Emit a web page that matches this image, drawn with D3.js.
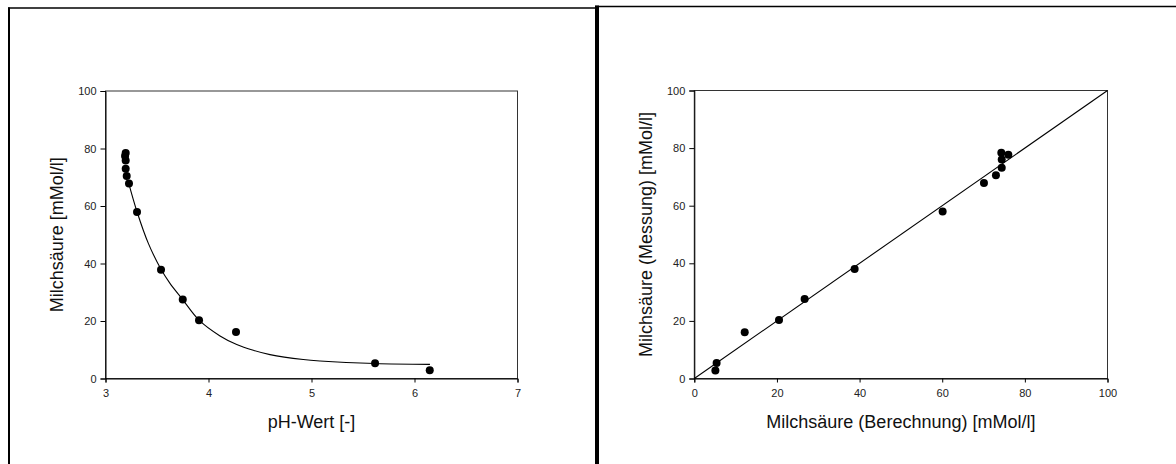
<!DOCTYPE html>
<html>
<head>
<meta charset="utf-8">
<script src="https://cdn.jsdelivr.net/npm/d3@7"></script>
<style>
  html, body { margin: 0; padding: 0; background: #fff; }
  svg { display: block; }
  text { font-family: "Liberation Sans", Arial, sans-serif; }
</style>
</head>
<body>
<svg id="chart" width="1176" height="464"></svg>
<script>
// ---- Data ----
const phValues      = [3.196, 3.19, 3.196, 3.196, 3.206, 3.228, 3.306, 3.539, 3.75, 3.908, 4.267, 5.617, 6.148];
const measured      = [78.4, 77.4, 75.8, 73.0, 70.4, 67.8, 57.9, 37.8, 27.5, 20.3, 16.2, 5.3, 2.85];
const measuredRight = [78.4, 77.7, 76.0, 73.2, 70.6, 67.9, 58.0, 38.0, 27.6, 20.3, 16.1, 5.4, 2.8];
const calculated    = [74.3, 76.0, 74.4, 74.4, 73.0, 70.1, 60.1, 38.8, 26.7, 20.5, 12.2, 5.4, 5.1];

const fitPH    = [3.221, 3.306, 3.416, 3.539, 3.626, 3.740, 3.911, 4.112, 4.274, 4.435, 4.597, 4.920, 5.083, 5.617, 6.150];
const fitValue = [68.5, 58.0, 47.0, 38.0, 33.1, 27.9, 20.2, 14.8, 11.8, 9.8, 8.3, 6.6, 6.1, 5.2, 4.9];

const diagX = [0, 100];
const diagY = [0, 100];

const leftXTicks  = [3, 4, 5, 6, 7];
const yTicks      = [0, 20, 40, 60, 80, 100];
const rightXTicks = [0, 20, 40, 60, 80, 100];

const leftXTitle  = "pH-Wert [-]";
const leftYTitle  = "Milchsäure [mMol/l]";
const rightXTitle = "Milchsäure (Berechnung) [mMol/l]";
const rightYTitle = "Milchsäure (Messung) [mMol/l]";

// ---- Drawing ----
const svg = d3.select("#chart");
svg.append("rect").attr("width", 1176).attr("height", 464).attr("fill", "#fff");

// panel frames
const frame = svg.append("g").attr("stroke", "#000").attr("fill", "none");
frame.append("line").attr("x1", 9).attr("x2", 9).attr("y1", 7.5).attr("y2", 464).attr("stroke-width", 2);
frame.append("line").attr("x1", 8).attr("x2", 597).attr("y1", 8).attr("y2", 8).attr("stroke-width", 1.6);
frame.append("line").attr("x1", 597).attr("x2", 597).attr("y1", 5.5).attr("y2", 464).attr("stroke-width", 4);
frame.append("line").attr("x1", 595).attr("x2", 1176).attr("y1", 6.5).attr("y2", 6.5).attr("stroke-width", 1.6);

function panel(cfg) {
  const g = svg.append("g");
  const x = d3.scaleLinear().domain(cfg.xDomain).range([cfg.left, cfg.right]);
  const y = d3.scaleLinear().domain([0, 100]).range([cfg.bottom, cfg.top]);

  // frame box
  g.append("rect")
    .attr("x", cfg.left).attr("y", cfg.top)
    .attr("width", cfg.right - cfg.left).attr("height", cfg.bottom - cfg.top)
    .attr("fill", "none").attr("stroke", "#333").attr("stroke-width", 1);

  const xAxis = g.append("g").attr("transform", `translate(0,${cfg.bottom})`)
    .call(d3.axisBottom(x).tickValues(cfg.xTicks).tickSize(4).tickPadding(7).tickFormat(d3.format("d")));
  const yAxis = g.append("g").attr("transform", `translate(${cfg.left},0)`)
    .call(d3.axisLeft(y).tickValues(yTicks).tickSize(5).tickPadding(4).tickFormat(d3.format("d")));
  [xAxis, yAxis].forEach(a => {
    a.select(".domain").attr("stroke", "#000");
    a.selectAll(".tick line").attr("stroke", "#000");
    a.selectAll(".tick text").attr("fill", "#222").style("font-size", "11px")
      .style("font-family", '"Liberation Sans", Arial, sans-serif');
  });

  // axis titles
  g.append("text")
    .attr("x", (cfg.left + cfg.right) / 2).attr("y", 428)
    .attr("text-anchor", "middle").attr("fill", "#111")
    .style("font-size", "18px").text(cfg.xTitle);
  g.append("text")
    .attr("transform", `translate(${cfg.yTitleX},${(cfg.top + cfg.bottom) / 2}) rotate(-90)`)
    .attr("text-anchor", "middle").attr("fill", "#111")
    .style("font-size", "18px").text(cfg.yTitle);

  // line
  const line = d3.line().x(d => x(d[0])).y(d => y(d[1])).curve(cfg.curve);
  g.append("path")
    .datum(cfg.lineX.map((v, i) => [v, cfg.lineY[i]]))
    .attr("d", line).attr("fill", "none").attr("stroke", "#000").attr("stroke-width", 1.1);

  // points
  g.selectAll("circle.pt")
    .data(cfg.px.map((v, i) => [v, cfg.py[i]]))
    .join("circle").attr("class", "pt")
    .attr("cx", d => x(d[0])).attr("cy", d => y(d[1]))
    .attr("r", 4).attr("fill", "#000");
}

panel({
  left: 105.5, right: 517.5, top: 91, bottom: 378.5,
  xDomain: [3, 7], xTicks: leftXTicks,
  xTitle: leftXTitle, yTitle: leftYTitle, yTitleX: 63,
  lineX: fitPH, lineY: fitValue, curve: d3.curveCatmullRom,
  px: phValues, py: measured
});

panel({
  left: 694.3, right: 1107.5, top: 90.5, bottom: 378.5,
  xDomain: [0, 100], xTicks: rightXTicks,
  xTitle: rightXTitle, yTitle: rightYTitle, yTitleX: 652,
  lineX: diagX, lineY: diagY, curve: d3.curveLinear,
  px: calculated, py: measuredRight
});
</script>
</body>
</html>
